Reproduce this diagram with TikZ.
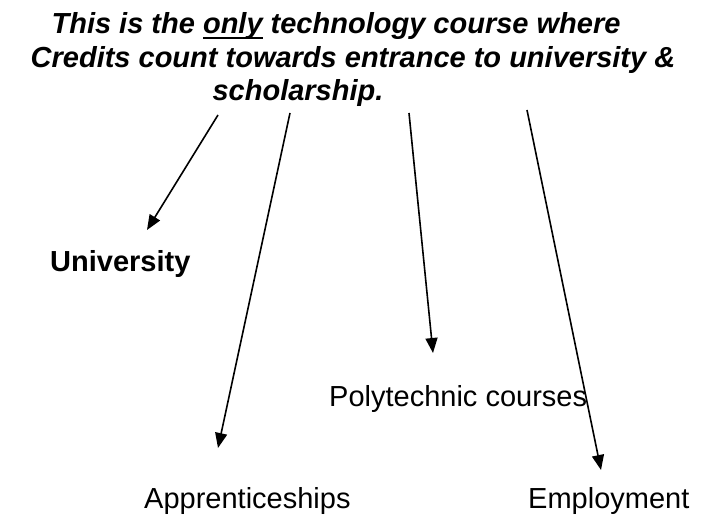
\documentclass[tikz,border=0pt]{standalone}
\usepackage{fontspec}
\setmainfont{Liberation Sans}
\usetikzlibrary{arrows.meta}
\newcommand\thickul[1]{\setbox0\hbox{#1}\rlap{\rule[-5.5pt]{\wd0}{2.5pt}}\box0\relax}
\tikzset{
  titleline/.style={anchor=base, inner sep=0pt, font=\fontsize{29}{33}\selectfont\bfseries\itshape},
  dest/.style={anchor=base west, inner sep=0pt, font=\fontsize{29}{33}\selectfont},
  link/.style={line width=1.6pt, -{Triangle[length=15pt,width=12pt]}}
}
\begin{document}
\begin{tikzpicture}[x=1pt,y=-1pt]
\useasboundingbox (0,0) rectangle (702,516);
\node[titleline] (t1) at (336,34) {This is the \thickul{only} technology course where};
\node[titleline] (t2) at (353,68) {Credits count towards entrance to university \&};
\node[titleline] (t3) at (298,101) {scholarship.};
\node[dest, font=\fontsize{29}{33}\selectfont\bfseries] (uni) at (50,271) {University};
\node[dest] (poly) at (329,406) {Polytechnic courses};
\node[dest] (app) at (144,508) {Apprenticeships};
\node[dest] (emp) at (528,508) {Employment};
\coordinate (s1) at (218,115);
\coordinate (e1) at (147,230);
\coordinate (s2) at (290,113);
\coordinate (e2) at (218,448);
\coordinate (s3) at (409,113);
\coordinate (e3) at (433,353);
\coordinate (s4) at (527,110);
\coordinate (e4) at (601,470);
\draw[link] (s1) -- (e1);
\draw[link] (s2) -- (e2);
\draw[link] (s3) -- (e3);
\draw[link] (s4) -- (e4);
\end{tikzpicture}
\end{document}
